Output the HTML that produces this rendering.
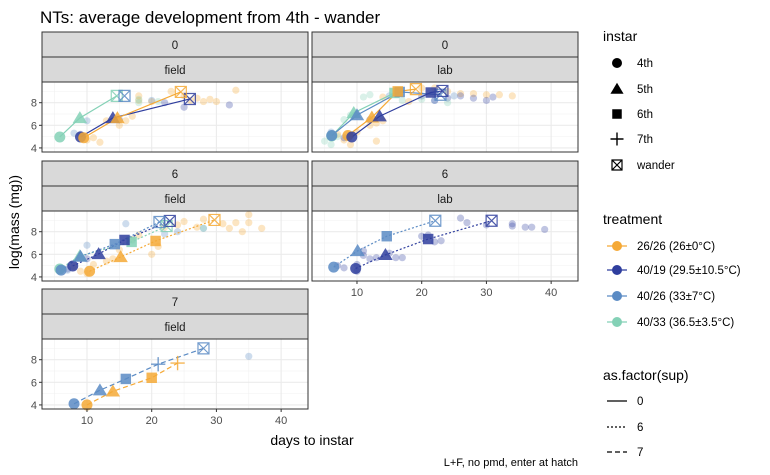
<!DOCTYPE html>
<html><head><meta charset="utf-8">
<style>
body{margin:0;background:#fff;}
svg{display:block;font-family:"Liberation Sans",Arial,sans-serif;}
</style></head>
<body>
<svg id="chart" width="770" height="475" viewBox="0 0 770 475">
<text x="40" y="23" font-size="17" fill="#000">NTs: average development from 4th - wander</text>
<text transform="translate(19,222) rotate(-90)" text-anchor="middle" font-size="14" fill="#000">log(mass (mg))</text>
<text x="312" y="445" text-anchor="middle" font-size="14" fill="#000">days to instar</text>
<text x="578" y="466" text-anchor="end" font-size="11" fill="#000">L+F, no pmd, enter at hatch</text>
<g id="panels"></g>
<g id="legend"></g>
</svg>
<script>
const NS="http://www.w3.org/2000/svg";
const colors={"26/26":"#F5A936","40/19":"#2F3E9E","40/26":"#5B8BC4","40/33":"#84D1B6"};
const treatmentLabels=["26/26 (26±0°C)","40/19 (29.5±10.5°C)","40/26 (33±7°C)","40/33 (36.5±3.5°C)"];
const treatments=["26/26","40/19","40/26","40/33"];
const instars=["4th","5th","6th","7th","wander"];
const xTicks=[10,20,30,40];
const yTicks=[4,6,8];
const supLevels=["0","6","7"];

// panel main series: [treatment, instar list, days, masses]
const field0Days={"40/33":[5.8,8.9,14.6],"40/26":[15.8],"40/19":[9,14,25.9],"26/26":[9.5,14.7,24.5]};
const field0Mass={"40/33":[4.97,6.65,8.6],"40/26":[8.6],"40/19":[4.97,6.65,8.33],"26/26":[4.9,6.65,8.95]};
const field0Inst={"40/33":["4th","5th","wander"],"40/26":["wander"],"40/19":["4th","5th","wander"],"26/26":["4th","5th","wander"]};

const lab0Days={"40/33":[6.1,9.5,15.8],"40/26":[6.1,10,16.6,22.9],"26/26":[8.6,12.3,16.3,19.1],"40/19":[9.2,13.5,21.4,23.2]};
const lab0Mass={"40/33":[5.06,7.1,8.86],"40/26":[5.1,6.9,8.95,8.7],"26/26":[5.1,6.7,9.0,9.2],"40/19":[4.97,6.8,8.9,9.04]};
const lab0Inst={"40/33":["4th","5th","6th"],"40/26":["4th","5th","6th","wander"],"26/26":["4th","5th","6th","wander"],"40/19":["4th","5th","6th","wander"]};

const field6Days={"40/33":[5.8,8.9,16.9,22.3],"40/19":[7.8,11.8,15.8,22.8],"40/26":[6,9,14.3,21.2],"26/26":[10.4,15.2,20.6,29.7]};
const field6Mass={"40/33":[4.7,5.85,7.1,8.5],"40/19":[4.97,6.03,7.27,8.95],"40/26":[4.6,5.8,6.9,8.86],"26/26":[4.5,5.76,7.18,9.04]};
const field6Inst={"40/33":["4th","5th","6th","wander"],"40/19":["4th","5th","6th","wander"],"40/26":["4th","5th","6th","wander"],"26/26":["4th","5th","6th","wander"]};

const lab6Days={"40/26":[6.4,10.1,14.6,22.1],"40/19":[9.8,14.4,21,30.8]};
const lab6Mass={"40/26":[4.87,6.3,7.6,8.97],"40/19":[4.75,5.95,7.35,8.97]};
const lab6Inst={"40/26":["4th","5th","6th","wander"],"40/19":["4th","5th","6th","wander"]};

const field7Days={"40/26":[8,12,16,21,28],"26/26":[10,14,20,24]};
const field7Mass={"40/26":[4.1,5.3,6.3,7.6,9.0],"26/26":[4.0,5.2,6.4,7.7]};
const field7Inst={"40/26":["4th","5th","6th","7th","wander"],"26/26":["4th","5th","6th","7th"]};

// background individual points [day, mass]
const field0Bg={"26/26":[[10,4.7],[11,4.9],[12,4.5],[13,6.4],[15,6.0],[16,6.4],[17,6.8],[18,8.2],[18,8.6],[20,8.1],[23,9.0],[25,8.6],[26,8.2],[27,8.4],[28,8.1],[29,8.3],[30,8.1],[33,9.1]],"40/19":[[9,5.2],[15,6.5],[22,8.0],[25,7.6],[32,7.8]],"40/26":[[8,5.3],[10,6.4],[20,8.2]],"40/33":[[18,8.0],[18,8.3],[21,8.1]]};
const lab0Bg={"26/26":[[7,5.2],[8,4.7],[9,4.3],[10,5.4],[12,6.0],[13,6.2],[14,6.4],[14,8.5],[16,8.8],[18,8.1],[20,9.3],[22,9.3],[24,9.0],[26,8.8],[28,8.8],[30,8.7],[32,8.7],[34,8.6],[13,4.6]],"40/19":[[8,4.9],[9,5.1],[12,6.5],[20,8.6],[22,8.2],[24,8.4],[26,8.6],[28,8.4],[30,8.2],[31,8.5]],"40/26":[[6,5.4],[10,7.0],[15,8.6],[22,8.2],[25,8.6]],"40/33":[[5,4.6],[6,4.3],[7,5.0],[8,6.5],[9,6.9],[11,8.5],[12,8.7],[17,8.2],[20,8.3],[24,8.0]]};
const field6Bg={"26/26":[[8,4.9],[9,4.5],[10,4.3],[11,5.1],[13,5.4],[14,5.6],[15,6.4],[17,7.3],[18,7.7],[20,6.0],[21,6.7],[22,8.4],[24,8.6],[25,8.9],[27,8.4],[28,9.1],[31,8.7],[32,8.3],[33,8.8],[34,8.0],[35,9.5],[35,8.8],[37,8.3]],"40/19":[[7,4.7],[10,5.6]],"40/26":[[7,4.6],[10,6.8],[16,8.7],[22,7.8],[24,8.0],[28,8.3]],"40/33":[[28,8.3],[17,7.2]]};
const lab6Bg={"40/19":[[7,5.0],[8,4.8],[10,4.5],[10,5.1],[11,5.9],[11,6.3],[12,5.6],[13,5.7],[15,6.1],[16,5.7],[17,5.7],[20,7.6],[21,7.7],[22,7.1],[23,7.2],[26,9.2],[27,8.8],[30,8.6],[34,8.7],[34,8.5],[36,8.4],[37,8.4],[39,8.2]]};
const field7Bg={"40/26":[[35,8.3]]};

const panelDefs=[
 {name:"field-0",sup:"0",env:"field",x:42,y:32,days:field0Days,mass:field0Mass,inst:field0Inst,bg:field0Bg,yl:true,xl:false},
 {name:"lab-0",sup:"0",env:"lab",x:312,y:32,days:lab0Days,mass:lab0Mass,inst:lab0Inst,bg:lab0Bg,yl:false,xl:false},
 {name:"field-6",sup:"6",env:"field",x:42,y:161,days:field6Days,mass:field6Mass,inst:field6Inst,bg:field6Bg,yl:true,xl:false},
 {name:"lab-6",sup:"6",env:"lab",x:312,y:161,days:lab6Days,mass:lab6Mass,inst:lab6Inst,bg:lab6Bg,yl:false,xl:true},
 {name:"field-7",sup:"7",env:"field",x:42,y:289,days:field7Days,mass:field7Mass,inst:field7Inst,bg:field7Bg,yl:true,xl:true}
];
const PW=266, SH=25, PH=70;
const XMIN=3.05, XMAX=44.15, YMIN=3.64, YMAX=9.83;
const dash={"0":"","6":"2,2","7":"5,3"};

function el(tag,attrs,parent){const e=document.createElementNS(NS,tag);for(const k in attrs)e.setAttribute(k,attrs[k]);if(parent)parent.appendChild(e);return e;}

function shape(g,inst,cx,cy,col,s,op){
  let e;
  if(inst==="4th"){e=el("circle",{cx:cx,cy:cy,r:s,fill:col,"fill-opacity":op},g);}
  else if(inst==="5th"){const h=s*1.25;e=el("polygon",{points:`${cx},${cy-h} ${cx+h*1.05},${cy+h*0.75} ${cx-h*1.05},${cy+h*0.75}`,fill:col,"fill-opacity":op},g);}
  else if(inst==="6th"){e=el("rect",{x:cx-s*0.95,y:cy-s*0.95,width:s*1.9,height:s*1.9,fill:col,"fill-opacity":op},g);}
  else if(inst==="7th"){e=el("path",{d:`M${cx-s*1.3},${cy}H${cx+s*1.3}M${cx},${cy-s*1.3}V${cy+s*1.3}`,stroke:col,"stroke-width":1.4,"stroke-opacity":op,fill:"none"},g);}
  else {e=el("path",{d:`M${cx-s},${cy-s}h${2*s}v${2*s}h${-2*s}zM${cx-s},${cy-s}L${cx+s},${cy+s}M${cx+s},${cy-s}L${cx-s},${cy+s}`,stroke:col,"stroke-width":1.2,"stroke-opacity":op,fill:"none"},g);}
  return e;
}

const root=document.getElementById("panels");
panelDefs.forEach(p=>{
  const g=el("g",{},root);
  
  
  const px0=p.x, py0=p.y+2*SH, pb=py0+PH;
  const sx=d=>px0+(d-XMIN)/(XMAX-XMIN)*PW;
  const sy=m=>pb-(m-YMIN)/(YMAX-YMIN)*PH;
  // strips
  [p.sup,p.env].forEach((t,i)=>{
    const r=el("rect",{x:px0,y:p.y+i*SH,width:PW,height:SH,fill:"#d9d9d9",stroke:"#333","stroke-width":1},g);
    
    
    const tx=el("text",{x:px0+PW/2,y:p.y+i*SH+17,"text-anchor":"middle","font-size":11.5,fill:"#1a1a1a"},g);
    tx.textContent=t;
    
    
  });
  el("rect",{x:px0,y:py0,width:PW,height:PH,fill:"#fff"},g);
  // grid
  const grid=el("g",{},g);
  
  
  for(let d=5;d<=45;d+=10){if(d>XMIN&&d<XMAX)el("line",{x1:sx(d),x2:sx(d),y1:py0,y2:pb,stroke:"#f0f0f0","stroke-width":0.6},grid);}
  for(let m=5;m<=9;m+=2){el("line",{x1:px0,x2:px0+PW,y1:sy(m),y2:sy(m),stroke:"#f0f0f0","stroke-width":0.6},grid);}
  el("line",{x1:px0,x2:px0+PW,y1:sy(9.8),y2:sy(9.8),stroke:"#f0f0f0","stroke-width":0.6},grid);
  xTicks.forEach(d=>el("line",{x1:sx(d),x2:sx(d),y1:py0,y2:pb,stroke:"#ebebeb","stroke-width":1.1},grid));
  yTicks.forEach(m=>el("line",{x1:px0,x2:px0+PW,y1:sy(m),y2:sy(m),stroke:"#ebebeb","stroke-width":1.1},grid));
  // background points
  for(const t in p.bg){p.bg[t].forEach(pt=>{
    const c=el("circle",{cx:sx(pt[0]),cy:sy(pt[1]),r:3.6,fill:colors[t],"fill-opacity":0.3},g);
    
    
  });}
  // lines
  for(const t in p.days){
    const pts=p.days[t].map((d,i)=>sx(d)+","+sy(p.mass[t][i])).join(" ");
    const l=el("polyline",{points:pts,fill:"none",stroke:colors[t],"stroke-width":1.2,"stroke-dasharray":dash[p.sup]},g);
    
    
  }
  // marks
  for(const t in p.days){
    p.days[t].forEach((d,i)=>{
      const m=shape(g,p.inst[t][i],sx(d),sy(p.mass[t][i]),colors[t],5.5,0.85);
      
      
    });
  }
  const border=el("rect",{x:px0,y:py0,width:PW,height:PH,fill:"none",stroke:"#333","stroke-width":1},g);
  
  
  if(p.yl){yTicks.forEach(m=>{
    el("line",{x1:px0-3,x2:px0,y1:sy(m),y2:sy(m),stroke:"#333"},g);
    const tx=el("text",{x:px0-5,y:sy(m)+4,"text-anchor":"end","font-size":11,fill:"#4d4d4d"},g);
    tx.textContent=m;
    
    
  });}
  if(p.xl){xTicks.forEach(d=>{
    el("line",{x1:sx(d),x2:sx(d),y1:pb,y2:pb+3,stroke:"#333"},g);
    const tx=el("text",{x:sx(d),y:pb+15,"text-anchor":"middle","font-size":11,fill:"#4d4d4d"},g);
    tx.textContent=d;
    
    
  });}
});

// legend
const lg=document.getElementById("legend");
function ltext(x,y,t,size,name){const e=el("text",{x:x,y:y,"font-size":size,fill:"#000"},lg);e.textContent=t;return e;}
ltext(603,41,"instar",14,"legend-title-instar");
const iy=[63,89,114,139,165];
instars.forEach((s,i)=>{
  const m=shape(lg,s,617,iy[i],"#000",5,1);
  
  
  ltext(637,iy[i]+4,s,11.5,'legend-entry-'+s);
});
ltext(603,224,"treatment",14,"legend-title-treatment");
const ty=[246,270,296,322];
treatments.forEach((t,i)=>{
  el("line",{x1:607,x2:627,y1:ty[i],y2:ty[i],stroke:colors[t],"stroke-width":1.2},lg);
  const c=el("circle",{cx:617,cy:ty[i],r:5,fill:colors[t]},lg);
  
  
  ltext(637,ty[i]+4,treatmentLabels[i],11.5,'legend-entry-treatment');
});
ltext(603,380,"as.factor(sup)",14,"legend-title-sup");
const sy2=[401,427,452];
supLevels.forEach((s,i)=>{
  const l=el("line",{x1:607,x2:627,y1:sy2[i],y2:sy2[i],stroke:"#000","stroke-width":1.2,"stroke-dasharray":dash[s]},lg);
  
  
  ltext(637,sy2[i]+4,s,11.5,'legend-entry-sup');
});
</script>
</body></html>
